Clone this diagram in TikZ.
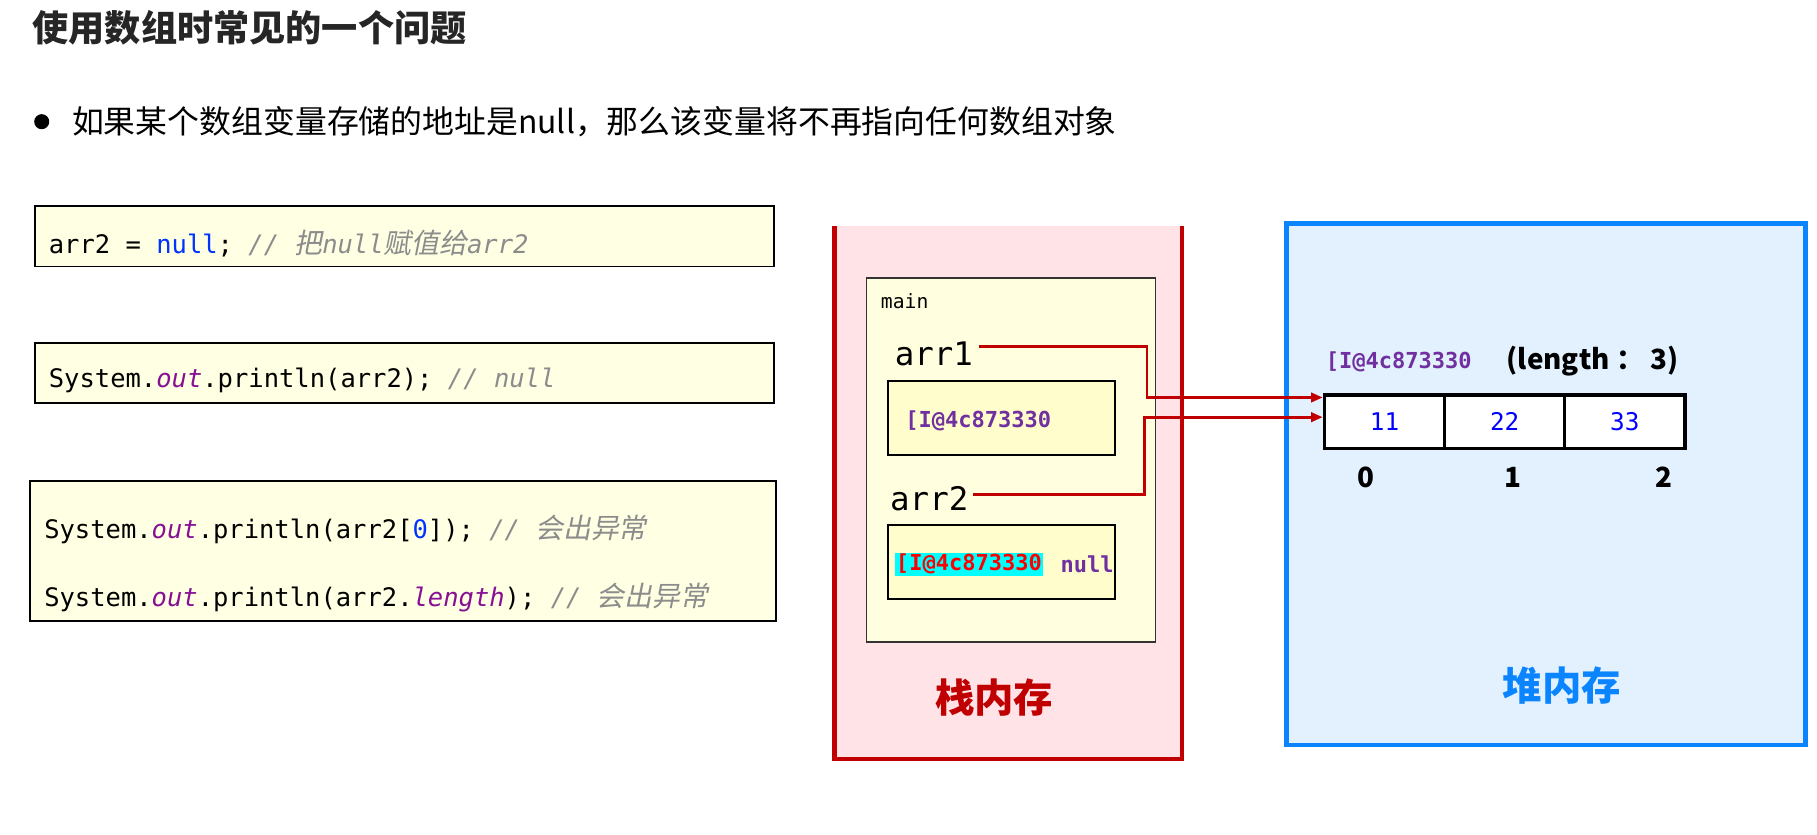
\documentclass[tikz,border=0pt]{standalone}
\usepackage{fontspec}
\setmainfont{Noto Sans CJK SC}
\setmonofont{DejaVu Sans Mono}
\newfontfamily\cjkslant[FakeSlant=0.2]{Noto Sans CJK SC}
\usetikzlibrary{arrows.meta}

\definecolor{codebg}{RGB}{255,255,227}
\definecolor{stackred}{RGB}{192,0,0}
\definecolor{stackbg}{RGB}{255,227,230}
\definecolor{heapblue}{RGB}{10,132,255}
\definecolor{heapbg}{RGB}{227,241,255}
\definecolor{kwblue}{RGB}{0,51,255}
\definecolor{fldpurple}{RGB}{135,16,148}
\definecolor{addrpurple}{RGB}{112,48,160}
\definecolor{cmtgray}{RGB}{140,140,140}
\definecolor{mainbg}{RGB}{255,255,224}
\definecolor{valbg}{RGB}{255,253,204}
\definecolor{hlcyan}{RGB}{0,255,255}
\definecolor{valblue}{RGB}{0,0,255}

\newcommand{\msp}{\hspace*{0.602em}}
\newcommand{\kwd}[1]{\textcolor{kwblue}{#1}}
\newcommand{\fld}[1]{\textcolor{fldpurple}{\itshape #1}}
\newcommand{\cmt}[1]{\textcolor{cmtgray}{\itshape #1}}
\newcommand{\cjkc}[1]{{\cjkslant\fontsize{24}{26}\selectfont #1}}

\tikzset{
  codebox/.style={draw,line width=1.6pt,fill=codebg},
  codetext/.style={anchor=west,inner sep=0pt,font=\fontsize{22}{26.4}\selectfont\ttfamily},
  valbox/.style={draw,line width=1.6pt,fill=valbg,minimum width=196pt,minimum height=64pt},
  addr/.style={text=addrpurple,inner sep=1pt,font=\fontsize{19}{19}\selectfont\ttfamily\bfseries},
  varname/.style={anchor=west,inner sep=0pt,font=\fontsize{28}{28}\selectfont\ttfamily},
  cell/.style={draw,line width=3pt,fill=white,minimum width=103.67pt,minimum height=46pt,
    text=valblue,font=\fontsize{21}{21}\selectfont\ttfamily},
  idx/.style={font=\fontsize{24}{24}\selectfont\bfseries},
  ptr/.style={draw=stackred,line width=2.4pt,-{Triangle[length=10pt,width=8pt]}}
}

\begin{document}
\begin{tikzpicture}[x=1pt,y=-1pt]
\useasboundingbox (0,0) rectangle (1568,720);
\fill[white] (0,0) rectangle (1568,720);

\node[anchor=west,inner sep=0pt,text=black!85,font=\fontsize{31.2}{33}\selectfont\bfseries] (title) at (28,24) {使用数组时常见的一个问题};
\node[circle,fill=black,inner sep=0pt,minimum size=13pt] (dot) at (36,105) {};
\node[anchor=west,inner sep=0pt,font=\fontsize{27.5}{28}\selectfont] (note) at (62,105) {如果某个数组变量存储的地址是null，那么该变量将不再指向任何数组对象};

% code
\node[codebox,minimum width=638pt,minimum height=52pt] (code1) at (349,204) {};
\node[codetext] (line1) at (42,210)
  {arr2\msp=\msp\kwd{null};\msp\cmt{//\msp\cjkc{把}null\cjkc{赋值给}arr2}};
\node[codebox,minimum width=638pt,minimum height=52pt] (code2) at (349,322) {};
\node[codetext] (line2) at (42,328)
  {System.\fld{out}.println(arr2);\msp\cmt{//\msp null}};
\node[codebox,minimum width=644pt,minimum height=121pt] (code3) at (348,475.5) {};
\node[codetext] (line3) at (38,457)
  {System.\fld{out}.println(arr2[\kwd{0}]);\msp\cmt{//\msp\cjkc{会出异常}}};
\node[codetext] (line4) at (38,516)
  {System.\fld{out}.println(arr2.\fld{length});\msp\cmt{//\msp\cjkc{会出异常}}};

% stack
\fill[stackbg] (720,195) rectangle (1020,655);
\draw[stackred,line width=4pt] (720,195) -- (720,655) -- (1020,655) -- (1020,195);
\node[draw=black!80,line width=1.2pt,fill=mainbg,minimum width=249pt,minimum height=314pt] (frame) at (872.5,397) {};
\node[anchor=west,inner sep=0pt,font=\fontsize{17}{17}\selectfont\ttfamily] (mainlbl) at (760,260) {main};
\node[varname] (arr1) at (772,305) {arr1};
\node[valbox] (val1) at (864,361) {};
\node[addr,anchor=west] (addr1) at (780,363) {[I@4c873330};
\node[varname] (arr2) at (768,430) {arr2};
\node[valbox] (val2) at (864,485) {};
\node[addr,anchor=west,text=red,fill=hlcyan] (addr2) at (772,487) {[I@4c873330};
\node[addr,anchor=west] (nul) at (914,487) {null};
\node[text=stackred,font=\fontsize{34}{34}\selectfont\bfseries] (stacklbl) at (858,602) {栈内存};

% heap
\node[draw=heapblue,line width=4pt,fill=heapbg,minimum width=448pt,minimum height=450pt] (heap) at (1334,418) {};
\node[addr,anchor=west] (haddr) at (1143,312) {[I@4c873330};
\node[anchor=west,inner sep=0pt,font=\fontsize{24}{24}\selectfont\bfseries] (hlen) at (1300,312) {(length ： 3)};
\foreach \v [count=\i from 0] in {11,22,33}
  \node[cell] (c\i) at (1194.8+103.67*\i,364) {\v};
\foreach \i/\x in {0/1179,1/1306,2/1436}
  \node[idx] (i\i) at (\x,412) {\i};
\node[text=heapblue,font=\fontsize{34}{34}\selectfont\bfseries] (heaplbl) at (1348,592) {堆内存};

\draw[ptr] ([xshift=5pt,yshift=6pt]arr1.east) -- ++(145,0) |- ([yshift=21pt]c0.west);
\draw[ptr] ([xshift=4pt,yshift=3pt]arr2.east) -- ++(148,0) |- ([yshift=4pt]c0.west);
\end{tikzpicture}
\end{document}
